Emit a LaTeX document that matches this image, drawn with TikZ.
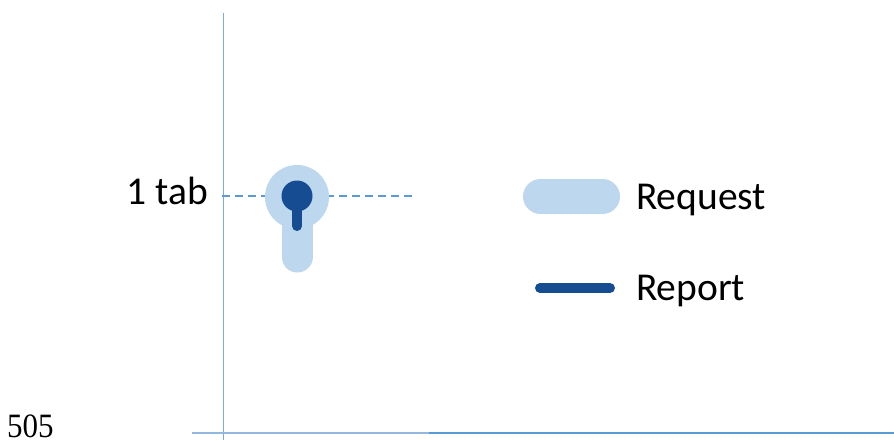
\documentclass[tikz,border=0pt]{standalone}
\usepackage{fontspec}
\setmainfont{Carlito}
\newfontfamily\numfont{Liberation Serif}
\definecolor{lightblue}{HTML}{BDD7EE}
\definecolor{darkblue}{HTML}{154C92}
\definecolor{midblue}{HTML}{5B9BD5}
\definecolor{axisblue}{HTML}{7FAADC}
\tikzset{
  lbl/.style={inner sep=0pt, font=\fontsize{39.5}{47}\selectfont},
  req/.style={line width=#1, color=lightblue, line cap=round},
  rep/.style={line width=#1, color=darkblue, line cap=round},
}
\begin{document}
\begin{tikzpicture}[x=1pt,y=-1pt]
\useasboundingbox (0,0) rectangle (894,440);
% axis
\coordinate (axtop) at (223.3,13);
\coordinate (axbot) at (223.3,440);
\draw[axisblue, line width=1pt] (axtop) -- (axbot);
% bottom line
\coordinate (bl) at (192,432.8);
\coordinate (bm) at (429,432.8);
\coordinate (br) at (894,432.8);
\draw[color=axisblue!85!white, line width=2.6pt] (bl) -- (bm);
\draw[color=midblue, line width=2.2pt] (bm) -- (br);
\node[inner sep=0pt, anchor=base west, yscale=1.1, font=\numfont\fontsize{31}{36}\selectfont] (num) at (7,437.5) {505};
% dashed level line
\coordinate (dl) at (222,196);
\coordinate (dr) at (416,196);
\draw[midblue, line width=1.4pt, dash pattern=on 8pt off 5pt] (dl) -- (dr);
\node[lbl, anchor=base east] (tab) at (208,204) {1 tab};
% keyhole
\coordinate (kc) at (297,197);
\coordinate (kb) at (297,257);
\coordinate (dc) at (297,196);
\coordinate (db) at (297,226);
\fill[lightblue] (kc) circle[radius=32];
\draw[req=31pt] (kc) -- (kb);
\fill[darkblue] (dc) circle[radius=15.5];
\draw[rep=10pt] (dc) -- (db);
% legend
\coordinate (l1a) at (540.5,196.5);
\coordinate (l1b) at (602.5,196.5);
\draw[req=35pt] (l1a) -- (l1b);
\node[lbl, anchor=base west] (reqt) at (636,209.3) {Request};
\coordinate (l2a) at (540,288);
\coordinate (l2b) at (610,288);
\draw[rep=10pt] (l2a) -- (l2b);
\node[lbl, anchor=base west] (rept) at (636,300) {Report};
\end{tikzpicture}
\end{document}
